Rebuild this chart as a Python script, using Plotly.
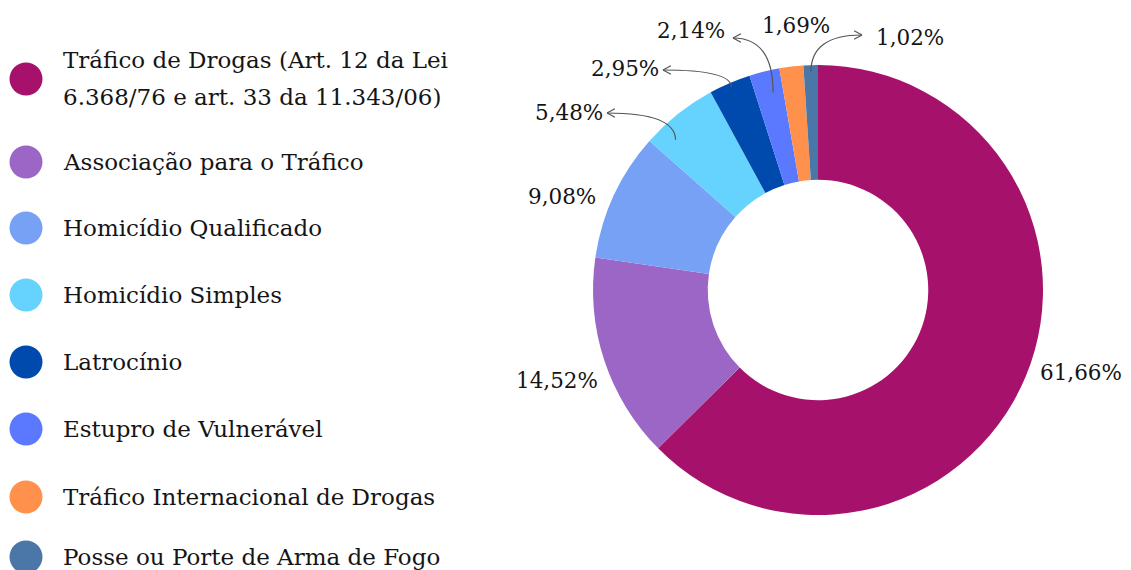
import math
import plotly.graph_objects as go

# ---------------- data ----------------
categories = [
    "Tráfico de Drogas (Art. 12 da Lei<br>6.368/76 e art. 33 da 11.343/06)",
    "Associação para o Tráfico",
    "Homicídio Qualificado",
    "Homicídio Simples",
    "Latrocínio",
    "Estupro de Vulnerável",
    "Tráfico Internacional de Drogas",
    "Posse ou Porte de Arma de Fogo",
]
values = [61.66, 14.52, 9.08, 5.48, 2.95, 2.14, 1.69, 1.02]

# ---------------- style ----------------
colors = ["#A6116B", "#9B66C5", "#77A1F5", "#66D3FE", "#004AAD", "#5B79FF", "#FF914D", "#4A76A8"]
FONT = "DejaVu Serif"
FS_LEG = 23
FS_LAB = 21.5
W, H = 1131, 570
OFF = 8  # page body margin
CX, CY, R = 818, 290, 225
HOLE = 0.49

# label centre positions (pixels) and arrow end points (None = no arrow)
label_pos = [(1081, 372), (557, 380), (562, 196), (569, 112), (625, 68), (691, 30), (796, 26), (910, 37)]
arrow_end = [None, None, None, (607, 113), (663, 70), (733, 38), None, (862, 35)]
arrow_r = [None, None, None, 0.92, 0.98, 0.90, None, 0.97]
arrow_da = [0, 0, 0, -5, 0, 1, 0, 0]  # small angular nudge (degrees) of arrow start


def paper(x, y):
    return (x - OFF) / W, 1 - (y - OFF) / H


x0, y0 = paper(CX - R, CY + R)
x1, y1 = paper(CX + R, CY - R)

fig = go.Figure()
fig.add_trace(go.Pie(
    labels=[c.replace("<br>", " ") for c in categories],
    values=values,
    sort=False,
    direction="clockwise",
    rotation=0,
    hole=HOLE,
    marker=dict(colors=colors, line=dict(width=0)),
    textinfo="none",
    hoverinfo="label+percent",
    showlegend=False,
    domain=dict(x=[x0, x1], y=[y0, y1]),
))

annotations = []
shapes = []

# value labels and arrows
total = sum(values)
cum = 0.0
for i, v in enumerate(values):
    mid = (cum + v / 2) / total * 2 * math.pi + math.radians(arrow_da[i])
    cum += v
    txt = f"{v:.2f}".replace(".", ",") + "%"
    lx, ly = label_pos[i]
    px, py = paper(lx, ly)
    annotations.append(dict(x=px, y=py, xref="paper", yref="paper", text=txt, showarrow=False,
                            xanchor="center", yanchor="middle",
                            font=dict(family=FONT, size=FS_LAB, color="#151515")))
    if arrow_end[i] is not None:
        sx = CX + R * arrow_r[i] * math.sin(mid)
        sy = CY - R * arrow_r[i] * math.cos(mid)
        ex, ey = arrow_end[i]
        qx, qy = sx, ey  # control point
        p = [paper(sx, sy), paper(qx, qy), paper(ex, ey)]
        path = f"M {p[0][0]},{p[0][1]} Q {p[1][0]},{p[1][1]} {p[2][0]},{p[2][1]}"
        shapes.append(dict(type="path", xref="paper", yref="paper", path=path,
                           line=dict(color="#555555", width=1.2)))
        # arrow head
        dx, dy = ex - qx, ey - qy
        L = math.hypot(dx, dy) or 1
        ux, uy = dx / L, dy / L
        hl = 9
        for ang in (0.5, -0.5):
            ca, sa = math.cos(ang), math.sin(ang)
            bx = -(ux * ca - uy * sa)
            by = -(ux * sa + uy * ca)
            hx, hy = ex + hl * bx, ey + hl * by
            a, b = paper(ex, ey), paper(hx, hy)
            shapes.append(dict(type="line", xref="paper", yref="paper",
                               x0=a[0], y0=a[1], x1=b[0], y1=b[1],
                               line=dict(color="#555555", width=1.2)))

# manual legend
leg_x_circle = 26
leg_r = 16.5
leg_text_x = 61
leg_y = [79, 162, 228, 295, 362, 429, 497, 557]
line_gap = 37
for i, c in enumerate(categories):
    yc = leg_y[i]
    a = paper(leg_x_circle - leg_r, yc - leg_r)
    b = paper(leg_x_circle + leg_r, yc + leg_r)
    shapes.append(dict(type="circle", xref="paper", yref="paper",
                       x0=a[0], y0=a[1], x1=b[0], y1=b[1],
                       fillcolor=colors[i], line=dict(width=0)))
    lines = c.split("<br>")
    n = len(lines)
    for k, ln in enumerate(lines):
        ty = yc + (k - (n - 1) / 2) * line_gap
        tx, tyy = paper(leg_text_x, ty)
        annotations.append(dict(x=tx, y=tyy, xref="paper", yref="paper", text=ln, showarrow=False,
                                xanchor="left", yanchor="middle",
                                font=dict(family=FONT, size=FS_LEG, color="#151515")))

fig.update_layout(
    width=W, height=H,
    margin=dict(l=0, r=0, t=0, b=0),
    paper_bgcolor="white",
    plot_bgcolor="white",
    annotations=annotations,
    shapes=shapes,
    showlegend=False,
)

fig.write_html("out.html")
